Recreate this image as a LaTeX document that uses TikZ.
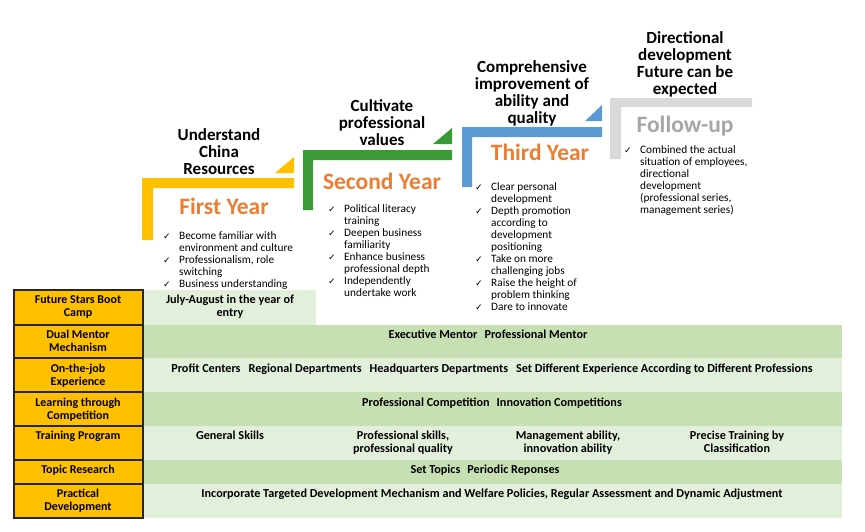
\documentclass[tikz,border=0pt]{standalone}
\usepackage{fontspec}
\setmainfont{Carlito}
\newfontfamily\symfont{DejaVu Sans}
\usepackage{xcolor}
\usetikzlibrary{positioning}

\definecolor{stepgold}{HTML}{FFC000}
\definecolor{stepgreen}{HTML}{3A9A35}
\definecolor{stepblue}{HTML}{5B9BD5}
\definecolor{stepgray}{HTML}{D9D9D9}
\definecolor{yearorange}{HTML}{ED7D31}
\definecolor{yeargray}{HTML}{A6A6A6}
\definecolor{rowlight}{HTML}{E2EFDA}
\definecolor{rowdark}{HTML}{C6E0B4}

\newcommand{\chk}{\makebox[16pt][l]{\symfont\fontsize{9}{12}\selectfont ✓}}

\begin{document}
\begin{tikzpicture}[x=1pt,y=-1pt,
    title/.style={anchor=north, align=center, inner sep=0pt,
      font=\fontsize{17}{17}\selectfont\bfseries},
    year/.style={anchor=base, inner sep=0pt, font=\fontsize{23.5}{25}\selectfont\bfseries},
    ticks/.style={anchor=north west, inner sep=0pt,
      font=\fontsize{11.3}{12}\selectfont},
    labcell/.style={fill=stepgold, draw=black!85, line width=1.2pt},
    lab/.style={anchor=north, align=center, inner sep=0pt,
      font=\fontsize{12}{13}\selectfont\bfseries},
    cell/.style={anchor=north, align=center, inner sep=0pt,
      font=\fontsize{12.2}{13}\selectfont\bfseries}]
  \useasboundingbox (0,0) rectangle (865,531);

  % first year step
  \fill[stepgold] (142,178) -- (294,178) -- (294,188) -- (153,188) -- (153,240) -- (142,240) -- cycle;
  \fill[stepgold] (275,173) -- (294,157) -- (294,173) -- cycle;
  \node[title] (title1) at (219,128) {Understand\\China\\Resources};
  \node[year, text=yearorange] (year1) at (224,214.5) {First Year};
  \node[ticks] (ticks1) at (163,231) {\begin{tabular}{@{}l@{}l@{}}
    \chk & Become familiar with\\ & environment and culture\\
    \chk & Professionalism, role\\ & switching\\
    \chk & Business understanding
  \end{tabular}};

  % second year step
  \fill[stepgreen] (303,150) -- (452,150) -- (452,160) -- (313,160) -- (313,210) -- (303,210) -- cycle;
  \fill[stepgreen] (433,144) -- (452,128) -- (452,144) -- cycle;
  \node[title] (title2) at (382,99) {Cultivate\\professional\\values};
  \node[year, text=yearorange] (year2) at (382,189.5) {Second Year};
  \node[ticks] (ticks2) at (328,204) {\begin{tabular}{@{}l@{}l@{}}
    \chk & Political literacy\\ & training\\
    \chk & Deepen business\\ & familiarity\\
    \chk & Enhance business\\ & professional depth\\
    \chk & Independently\\ & undertake work
  \end{tabular}};

  % third year step
  \fill[stepblue] (462,127) -- (602,127) -- (602,137) -- (472,137) -- (472,187) -- (462,187) -- cycle;
  \fill[stepblue] (585,121) -- (602,105) -- (602,121) -- cycle;
  \node[title] (title3) at (532,60) {Comprehensive\\improvement of\\ability and\\quality};
  \node[year, text=yearorange] (year3) at (540,160.5) {Third Year};
  \node[ticks] (ticks3) at (475,182) {\begin{tabular}{@{}l@{}l@{}}
    \chk & Clear personal\\ & development\\
    \chk & Depth promotion\\ & according to\\ & development\\ & positioning\\
    \chk & Take on more\\ & challenging jobs\\
    \chk & Raise the height of\\ & problem thinking\\
    \chk & Dare to innovate
  \end{tabular}};

  % follow-up step
  \fill[stepgray] (610,98) -- (752,98) -- (752,107) -- (621,107) -- (621,159) -- (610,159) -- cycle;
  \node[title] (title4) at (685,31) {Directional\\development\\Future can be\\expected};
  \node[year, text=yeargray] (year4) at (685,132.5) {Follow-up};
  \node[ticks] (ticks4) at (624,145) {\begin{tabular}{@{}l@{}l@{}}
    \chk & Combined the actual\\ & situation of employees,\\ & directional\\ & development\\ & (professional series,\\ & management series)
  \end{tabular}};

  % table rows
  \fill[rowlight] (143,290) rectangle (316,325);
  \fill[rowdark]  (143,325) rectangle (842,358);
  \fill[rowlight] (143,358) rectangle (842,392);
  \fill[rowdark]  (143,392) rectangle (842,426);
  \fill[rowlight] (143,426) rectangle (842,460);
  \fill[rowdark]  (143,460) rectangle (842,484);
  \fill[rowlight] (143,484) rectangle (842,518);

  % left column
  \draw[labcell] (14,290) rectangle (143,325);
  \draw[labcell] (14,325) rectangle (143,358);
  \draw[labcell] (14,358) rectangle (143,392);
  \draw[labcell] (14,392) rectangle (143,426);
  \draw[labcell] (14,426) rectangle (143,460);
  \draw[labcell] (14,460) rectangle (143,484);
  \draw[labcell] (14,484) rectangle (143,518);
  \node[lab] (lab1) at (78,295) {Future Stars Boot\\Camp};
  \node[lab] (lab2) at (78,330) {Dual Mentor\\Mechanism};
  \node[lab] (lab3) at (78,364) {On-the-job\\Experience};
  \node[lab] (lab4) at (78,398) {Learning through\\Competition};
  \node[lab] (lab5) at (78,431) {Training Program};
  \node[lab] (lab6) at (78,465) {Topic Research};
  \node[lab] (lab7) at (78,489) {Practical\\Development};

  % row contents
  \node[cell] (row1) at (230,295) {July-August in the year of\\entry};
  \node[cell] (row2) at (488,330) {Executive Mentor\hspace{7pt}Professional Mentor};
  \node[cell] (row3) at (492,364) {Profit Centers\hspace{8pt}Regional Departments\hspace{8pt}Headquarters Departments\hspace{8pt}Set Different Experience According to Different Professions};
  \node[cell] (row4) at (492,398) {Professional Competition\hspace{7pt}Innovation Competitions};
  \node[cell] (row5a) at (230,431) {General Skills};
  \node[cell] (row5b) at (403,431) {Professional skills,\\professional quality};
  \node[cell] (row5c) at (568,431) {Management ability,\\innovation ability};
  \node[cell] (row5d) at (737,431) {Precise Training by\\Classification};
  \node[cell] (row6) at (485,465) {Set Topics\hspace{7pt}Periodic Reponses};
  \node[cell] (row7) at (492,489) {Incorporate Targeted Development Mechanism and Welfare Policies, Regular Assessment and Dynamic Adjustment};
\end{tikzpicture}
\end{document}
